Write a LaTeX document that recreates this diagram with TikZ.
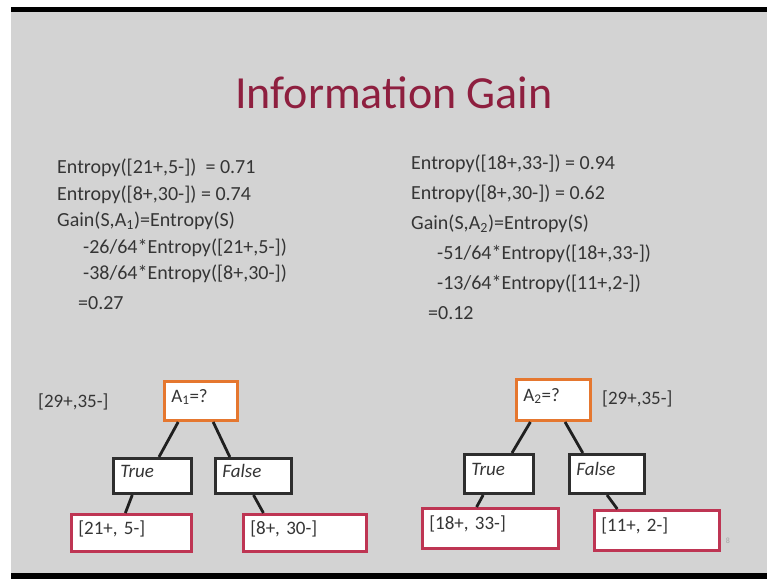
\documentclass[tikz,border=0pt]{standalone}
\usepackage{fontspec}
\setmainfont{Carlito}
\usetikzlibrary{calc}

\definecolor{slidebg}{HTML}{D3D3D3}
\definecolor{titlered}{HTML}{8E1F3F}
\definecolor{bodygray}{HTML}{353535}
\definecolor{orangeline}{HTML}{E5772F}
\definecolor{crimsonline}{HTML}{BE3553}
\definecolor{boxline}{HTML}{2E2E2E}

\begin{document}
\begin{tikzpicture}[x=1pt,y=-1pt,
  body/.style={anchor=base west, inner sep=0pt, text=bodygray,
    font=\fontsize{20}{24}\selectfont},
  tbox/.style={draw, line width=2.6pt, fill=white, inner xsep=7pt,
    inner ysep=0pt, align=left, text=bodygray, text height=13pt,
    text depth=11pt, font=\fontsize{19}{22}\selectfont},
  testbox/.style={tbox, draw=orangeline},
  branchbox/.style={tbox, draw=boxline, font=\fontsize{19}{22}\itshape},
  leafbox/.style={tbox, draw=crimsonline},
  setlabel/.style={anchor=west, inner sep=0pt, text=bodygray,
    font=\fontsize{19}{22}\selectfont},
  edge/.style={draw=black!88, line width=2.8pt}
]
\useasboundingbox (0,0) rectangle (767,579);

% slide frame
\fill[white] (0,0) rectangle (767,579);
\fill[slidebg] (11,12) rectangle (767,573);
\fill[black] (11,7) rectangle (767,12);
\fill[black] (11,573) rectangle (767,579);

% title
\node[anchor=base, inner sep=0pt, text=titlered,
  font=\fontsize{46}{50}\selectfont] (title) at (394,108) {Information Gain};

% left calculation
\node[body] (l1) at (57,173) {Entropy([21+,5-])\ \ = 0.71};
\node[body] (l2) at (57,200) {Entropy([8+,30-]) = 0.74};
\node[body] (l3) at (57,226) {Gain(S,A\textsubscript{1})=Entropy(S)};
\node[body] (l4) at (83,253) {-26/64*Entropy([21+,5-])};
\node[body] (l5) at (83,279) {-38/64*Entropy([8+,30-])};
\node[body] (l6) at (78,309) {=0.27};

% right calculation
\node[body] (r1) at (411,169) {Entropy([18+,33-]) = 0.94};
\node[body] (r2) at (411,199) {Entropy([8+,30-]) = 0.62};
\node[body] (r3) at (411,229) {Gain(S,A\textsubscript{2})=Entropy(S)};
\node[body] (r4) at (437,259) {-51/64*Entropy([18+,33-])};
\node[body] (r5) at (437,289) {-13/64*Entropy([11+,2-])};
\node[body] (r6) at (428,319) {=0.12};

% left tree
\node[setlabel] (s1) at (38,402) {[29+,35-]};
\node[testbox, minimum width=73.4pt, minimum height=39.4pt, text width=59.4pt]
  (A1) at (201,401) {A\textsubscript{1}=?};
\node[branchbox, minimum width=78.4pt, minimum height=35.4pt, text width=64.4pt]
  (T1) at (152.5,476) {True};
\node[branchbox, minimum width=76.4pt, minimum height=35.4pt, text width=62.4pt]
  (F1) at (253.5,476) {False};
\node[leafbox, minimum width=120.4pt, minimum height=37.4pt, text width=106.4pt]
  (L21) at (131.5,533) {[21+, 5-]};
\node[leafbox, minimum width=123.4pt, minimum height=37.4pt, text width=109.4pt]
  (L8) at (305,533) {[8+, 30-]};

\draw[edge] ($(A1.south west)!0.2!(A1.south east)$) -- ($(T1.north west)!0.58!(T1.north east)$);
\draw[edge] ($(A1.south west)!0.66!(A1.south east)$) -- ($(F1.north west)!0.2!(F1.north east)$);
\draw[edge] ($(T1.south west)!0.25!(T1.south east)$) -- ($(L21.north west)!0.45!(L21.north east)$);
\draw[edge] ($(F1.south west)!0.5!(F1.south east)$) -- ($(L8.north west)!0.17!(L8.north east)$);

% right tree
\node[setlabel] (s2) at (602,399) {[29+,35-]};
\node[testbox, minimum width=74.4pt, minimum height=41.4pt, text width=60.4pt]
  (A2) at (553.5,400) {A\textsubscript{2}=?};
\node[branchbox, minimum width=69.4pt, minimum height=39.4pt, text width=55.4pt]
  (T2) at (499,474) {True};
\node[branchbox, minimum width=75.4pt, minimum height=39.4pt, text width=61.4pt]
  (F2) at (607,474) {False};
\node[leafbox, minimum width=136.4pt, minimum height=40.4pt, text width=122.4pt]
  (R18) at (490.5,528.5) {[18+, 33-]};
\node[leafbox, minimum width=125.4pt, minimum height=40.4pt, text width=111.4pt]
  (R11) at (657,530.5) {[11+, 2-]};

\draw[edge] ($(A2.south west)!0.2!(A2.south east)$) -- ($(T2.north west)!0.68!(T2.north east)$);
\draw[edge] ($(A2.south west)!0.65!(A2.south east)$) -- ($(F2.north west)!0.19!(F2.north east)$);
\draw[edge] ($(T2.south west)!0.28!(T2.south east)$) -- ($(R18.north west)!0.4!(R18.north east)$);
\draw[edge] ($(F2.south west)!0.5!(F2.south east)$) -- ($(R11.north west)!0.19!(R11.north east)$);

% slide number
\node[inner sep=0pt, text=black!35, font=\fontsize{8}{9}\selectfont] (pg) at (728,541) {8};
\end{tikzpicture}
\end{document}
